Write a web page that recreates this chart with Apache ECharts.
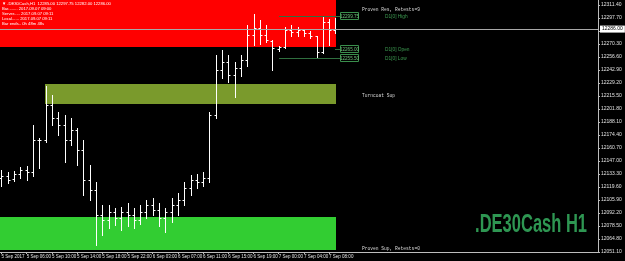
<!DOCTYPE html>
<html><head><meta charset="utf-8">
<script src="https://cdn.jsdelivr.net/npm/echarts/dist/echarts.min.js"></script>
<style>html,body{margin:0;padding:0;background:#000}#c{width:625px;height:261px}</style>
</head><body><div id="c"></div>
<script>
// ---- data ----
const times = [
 '5 Sep 02:00','5 Sep 03:00','5 Sep 04:00','5 Sep 05:00','5 Sep 06:00','5 Sep 07:00','5 Sep 08:00','5 Sep 09:00','5 Sep 10:00','5 Sep 11:00',
 '5 Sep 12:00','5 Sep 13:00','5 Sep 14:00','5 Sep 15:00','5 Sep 16:00','5 Sep 17:00','5 Sep 18:00','5 Sep 19:00','5 Sep 20:00','5 Sep 21:00',
 '5 Sep 22:00','6 Sep 00:00','6 Sep 01:00','6 Sep 02:00','6 Sep 03:00','6 Sep 04:00','6 Sep 05:00','6 Sep 06:00','6 Sep 07:00','6 Sep 08:00',
 '6 Sep 09:00','6 Sep 10:00','6 Sep 11:00','6 Sep 12:00','6 Sep 13:00','6 Sep 14:00','6 Sep 15:00','6 Sep 16:00','6 Sep 17:00','6 Sep 18:00',
 '6 Sep 19:00','6 Sep 20:00','6 Sep 21:00','6 Sep 22:00','7 Sep 00:00','7 Sep 01:00','7 Sep 02:00','7 Sep 03:00','7 Sep 04:00','7 Sep 05:00',
 '7 Sep 06:00','7 Sep 07:00','7 Sep 08:00','7 Sep 09:00'];
const openP = [12129.00,12131.25,12128.00,12133.25,12137.50,12135.50,12169.00,12169.00,12206.00,12192.25,
 12185.00,12169.00,12179.75,12158.50,12127.00,12116.50,12090.00,12084.75,12093.25,12087.00,
 12093.25,12090.00,12084.75,12093.25,12100.75,12095.25,12087.00,12093.25,12100.75,12106.00,
 12118.50,12127.00,12125.00,12129.00,12195.50,12243.00,12251.25,12237.75,12245.00,12253.50,
 12279.75,12287.25,12279.75,12273.50,12265.00,12267.25,12285.00,12283.00,12285.00,12282.00,
 12278.75,12262.00,12293.50,12285.00];
const highP = [12137.50,12135.50,12136.50,12140.75,12141.75,12185.00,12171.25,12226.00,12216.50,12198.75,
 12195.50,12192.25,12181.75,12169.25,12142.75,12125.00,12100.75,12100.50,12097.50,12098.50,
 12102.75,12097.50,12100.75,12106.00,12108.00,12102.75,12097.50,12108.00,12113.25,12125.00,
 12132.25,12133.25,12135.50,12198.75,12258.75,12264.00,12258.75,12251.25,12258.75,12290.25,
 12302.00,12295.50,12290.25,12274.50,12268.25,12288.25,12290.25,12288.25,12286.00,12284.00,
 12278.75,12299.75,12296.75,12297.75];
const lowP = [12120.75,12123.75,12126.00,12129.00,12127.00,12131.25,12139.75,12167.00,12185.00,12174.50,
 12146.00,12164.00,12142.75,12111.25,12106.00,12058.50,12069.00,12076.50,12079.50,12074.25,
 12078.50,12076.50,12080.50,12087.00,12090.00,12078.50,12072.25,12082.75,12090.00,12100.75,
 12111.25,12118.50,12120.75,12125.00,12192.25,12234.50,12230.25,12214.50,12236.50,12247.00,
 12269.25,12270.25,12272.50,12243.00,12263.00,12266.00,12278.75,12278.75,12278.75,12276.75,
 12255.50,12261.00,12269.25,12282.00];
const closeP = [12131.25,12127.00,12133.25,12137.50,12135.50,12169.25,12169.25,12206.00,12192.25,12185.00,
 12169.25,12179.75,12158.50,12127.00,12116.50,12090.00,12084.75,12093.25,12087.00,12093.25,
 12090.00,12084.75,12093.25,12100.75,12095.25,12087.00,12093.25,12100.75,12106.00,12118.50,
 12127.00,12125.00,12129.00,12195.50,12243.00,12251.25,12237.75,12245.00,12253.50,12279.75,
 12287.25,12279.75,12274.50,12266.00,12267.25,12285.00,12283.00,12285.00,12282.00,12278.75,
 12262.00,12293.50,12285.00,12286.00];
const xTickIdx = [0,4,8,12,16,20,24,28,32,36,40,44,48,52];
const xTickLabels = ['5 Sep 2017','5 Sep 06:00','5 Sep 10:00','5 Sep 14:00','5 Sep 18:00','5 Sep 22:00',
 '6 Sep 03:00','6 Sep 07:00','6 Sep 11:00','6 Sep 15:00','6 Sep 19:00','7 Sep 00:00','7 Sep 04:00','7 Sep 08:00'];
const yTickValues = [12311.40,12297.70,12284.00,12270.30,12256.60,12242.90,12229.20,12215.50,12201.80,12188.10,
 12174.40,12160.70,12147.00,12133.30,12119.60,12105.90,12092.20,12078.50,12064.80,12051.10];
const yMin = 12051.0, yMax = 12316.67;
const zoneNames = ['Proven Res, Retests=9','Turncoat Sup','Proven Sup, Retests=0'];
const zoneStart = [0, 7, 0];
const zoneLow = [12267.1, 12207.1, 12053.2];
const zoneHigh = [12330.0, 12228.2, 12088.0];
const zoneLabelLevel = [12306.1, 12215.5, 12054.3];
const dayStart = 44;
const headerLines = ['\u25BC .DE30Cash,H1  12285.00 12297.75 12282.00 12286.00',
 'Bar........ 2017.09.07 09:00','Server..... 2017.09.07 09:11','Local...... 2017.09.07 09:11','Bar ends.. 0h 48m 48s'];

// ---- derived ----
const last = times.length - 1;
const currentPrice = closeP[last];
const dayHigh = Math.max(...highP.slice(dayStart));
const dayLow = Math.min(...lowP.slice(dayStart));
const dayOpen = openP[dayStart];
const levels = [[dayStart, dayHigh, 'D1[0] High'], [last, dayOpen, 'D1[0] Open'], [dayStart, dayLow, 'D1[0] Low']];
const zoneColors = ['#ff0000', '#7a9a2c', '#32cd32'];

const chart = echarts.init(document.getElementById('c'), null, {renderer: 'canvas'});
const fontSmall = 'Liberation Sans';

chart.setOption({
  animation: false,
  backgroundColor: '#000',
  grid: {left: 0, right: 27, top: 0, bottom: 9, containLabel: false, outerBoundsMode: 'none'},
  xAxis: {
    type: 'value', min: -0.238, max: 94.68,
    axisLine: {onZero: false, lineStyle: {color: '#bdbdbd', width: 1}},
    axisTick: {customValues: xTickIdx, length: 2, lineStyle: {color: '#bdbdbd'}},
    axisLabel: {customValues: xTickIdx, color: '#e0e0e0', fontSize: 4.5, fontFamily: fontSmall, margin: 2, align: 'left',
      showMinLabel: true, showMaxLabel: true, hideOverlap: false,
      formatter: v => xTickLabels[xTickIdx.indexOf(Math.round(v))] || ''},
    splitLine: {show: false}
  },
  yAxis: {
    type: 'value', position: 'right', min: yMin, max: yMax,
    axisLine: {show: true, onZero: false, lineStyle: {color: '#bdbdbd', width: 1}},
    axisTick: {show: true, customValues: yTickValues, length: 2, lineStyle: {color: '#bdbdbd'}},
    axisLabel: {customValues: yTickValues, color: '#e0e0e0', fontSize: 5, fontFamily: fontSmall, margin: 3,
      showMinLabel: true, showMaxLabel: true, hideOverlap: false,
      formatter: v => v.toFixed(2)},
    splitLine: {show: false}
  },
  series: [
    {
      type: 'custom', name: 'zones', z: 1, silent: true,
      data: zoneNames.map((n, i) => [zoneStart[i], zoneLow[i], zoneHigh[i], zoneLabelLevel[i], i]),
      renderItem: (params, api) => {
        const cs = params.coordSys;
        const k = api.value(4);
        const xl = Math.max(cs.x, Math.round(api.coord([api.value(0), 0])[0]) - 1);
        const xr = Math.round(api.coord([last, 0])[0]) + 1;
        const yt = Math.max(cs.y, Math.round(api.coord([0, api.value(2)])[1]));
        const yb = Math.min(cs.y + cs.height, Math.round(api.coord([0, api.value(1)])[1]));
        const yl = api.coord([0, api.value(3)])[1];
        return {type: 'group', children: [
          {type: 'rect', shape: {x: xl, y: yt, width: xr - xl, height: yb - yt}, style: {fill: zoneColors[k]}},
          {type: 'text', x: xr + 26, y: yl, style: {text: zoneNames[k], fill: '#d8d8d8', font: '4.6px "Liberation Mono", monospace', verticalAlign: 'middle'}}
        ]};
      }
    },
    {
      type: 'custom', name: 'bars', z: 3, silent: true,
      data: times.map((t, i) => [i, openP[i], highP[i], lowP[i], closeP[i]]),
      encode: {x: 0, y: [1, 2, 3, 4]},
      renderItem: (params, api) => {
        const i = api.value(0);
        const x = Math.round(api.coord([i, 0])[0]) + 0.5;
        const yo = Math.round(api.coord([i, api.value(1)])[1]) + 0.5;
        const yh = Math.round(api.coord([i, api.value(2)])[1]);
        const yl = Math.round(api.coord([i, api.value(3)])[1]) + 1;
        const yc = Math.round(api.coord([i, api.value(4)])[1]) + 0.5;
        const st = {stroke: '#ffffff', lineWidth: 1};
        return {type: 'group', children: [
          {type: 'line', shape: {x1: x, y1: yh, x2: x, y2: yl}, style: st},
          {type: 'line', shape: {x1: x - 2, y1: yo, x2: x, y2: yo}, style: st},
          {type: 'line', shape: {x1: x, y1: yc, x2: x + 2, y2: yc}, style: st}
        ]};
      },
      markLine: {
        silent: true, symbol: 'none',
        lineStyle: {color: '#a8a8a8', width: 1, type: 'solid'},
        label: {position: 'end', distance: 2, formatter: p => p.value.toFixed(2), backgroundColor: '#ffffff', color: '#000',
          fontSize: 5, fontFamily: fontSmall, padding: [1, 2, 1, 2]},
        data: [{yAxis: currentPrice}]
      }
    },
    {
      type: 'custom', name: 'levels', z: 4, silent: true,
      data: levels.map(l => [l[0], l[1]]),
      renderItem: (params, api) => {
        const idx = params.dataIndex;
        const y = Math.round(api.coord([0, api.value(1)])[1]) + 0.5;
        const x1 = Math.round(api.coord([api.value(0), 0])[0]);
        const xb = Math.round(api.coord([last, 0])[0]) + 5;
        return {type: 'group', children: [
          {type: 'line', shape: {x1: x1, y1: y, x2: xb, y2: y}, style: {stroke: '#2f6f3f', lineWidth: 1}},
          {type: 'rect', shape: {x: xb + 0.5, y: y - 4, width: 18, height: 7}, style: {fill: '#000', stroke: '#3a8f4c', lineWidth: 1}},
          {type: 'text', x: xb + 9.5, y: y, style: {text: api.value(1).toFixed(2), fill: '#6fbf7a', font: '4.6px "Liberation Sans", sans-serif', align: 'center', verticalAlign: 'middle'}},
          {type: 'text', x: xb + 45, y: y, style: {text: levels[idx][2], fill: '#3c9a50', font: '4.8px "Liberation Sans", sans-serif', verticalAlign: 'middle'}}
        ]};
      }
    }
  ],
  graphic: [
    ...headerLines.map((t, i) => ({type: 'text', left: 2, top: 1.5 + i * 5, z: 10, silent: true,
      style: {text: t, fill: '#ffffff', font: '4.2px "Liberation Sans", sans-serif'}})),
    {type: 'text', x: 587, y: 225, scaleX: 0.66, z: 10, silent: true,
      style: {text: '.DE30Cash H1', fill: '#2e9652', font: 'bold 25px "Liberation Sans Narrow", "Liberation Sans", sans-serif', align: 'right', verticalAlign: 'middle'}}
  ]
});
</script></body></html>
